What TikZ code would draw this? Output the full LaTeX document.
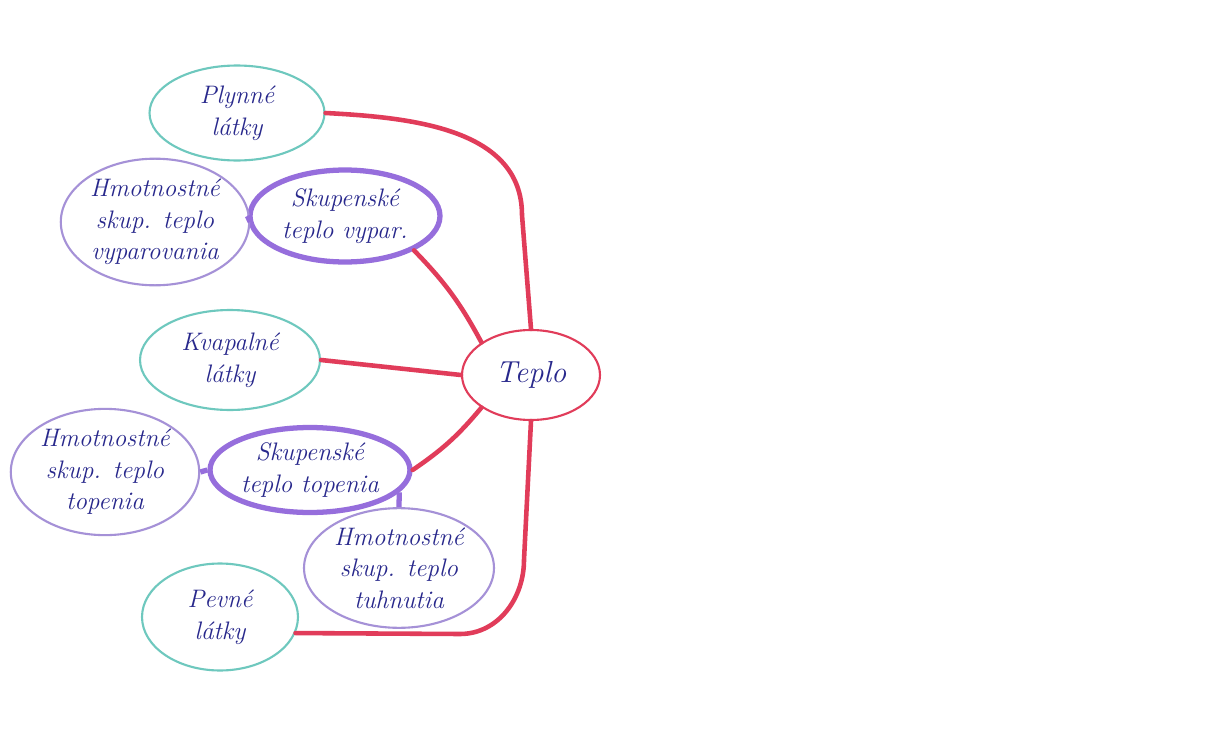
\documentclass[tikz,border=0pt]{standalone}
\usepackage{xcolor}
\usetikzlibrary{shapes.geometric}

\definecolor{tealpen}{RGB}{110,200,190}
\definecolor{violetpen}{RGB}{150,110,220}
\definecolor{lilacpen}{RGB}{165,145,215}
\definecolor{redpen}{RGB}{225,60,90}
\definecolor{inkpen}{RGB}{40,40,140}

\begin{document}
\begin{tikzpicture}[x=0.02cm,y=-0.02cm,
  bubble/.style={ellipse,inner sep=1pt,align=center,text=inkpen,font=\Large\itshape},
  state/.style={bubble,draw=tealpen,line width=1.2pt},
  skup/.style={bubble,draw=violetpen,line width=3pt},
  hmot/.style={bubble,draw=lilacpen,line width=1.2pt},
  hub/.style={bubble,draw=redpen,line width=1.2pt,font=\LARGE\itshape},
  redlink/.style={draw=redpen,line width=2.6pt,line cap=round},
  violetlink/.style={draw=violetpen,line width=3pt}]
\useasboundingbox[fill=white] (0,0) rectangle (1215,737);
% nodes
\node[hub,minimum width=2.76cm,minimum height=1.8cm] (teplo) at (531,375) {Teplo};
\node[state,minimum width=3.5cm,minimum height=1.9cm] (plyn) at (237,113) {Plynné\\ látky};
\node[skup,minimum width=3.8cm,minimum height=1.84cm] (skvyp) at (345,216) {Skupenské\\ teplo vypar.};
\node[hmot,minimum width=3.72cm,minimum height=2.3cm] (hmvyp) at (155,222) {Hmotnostné\\ skup. teplo\\ vyparovania};
\node[state,minimum width=3.6cm,minimum height=2.0cm] (kvap) at (230,360) {Kvapalné\\ látky};
\node[skup,minimum width=4.0cm,minimum height=1.7cm] (sktop) at (310,470) {Skupenské\\ teplo topenia};
\node[hmot,minimum width=3.4cm,minimum height=2.3cm] (hmtop) at (105,472) {Hmotnostné\\ skup. teplo\\ topenia};
\node[hmot,minimum width=3.8cm,minimum height=1.96cm] (hmtuh) at (399,568) {Hmotnostné\\ skup. teplo\\ tuhnutia};
\node[state,minimum width=3.12cm,minimum height=2.14cm] (pevne) at (220,617) {Pevné\\ látky};
\coordinate (topbend) at (522,215);
\coordinate (lowbend) at (524,560);
\coordinate (lowflat) at (460,634);
% red branches
\draw[redlink] (plyn.east) to[out=-3,in=90] (topbend) -- (teplo.north);
\draw[redlink] (skvyp.south east) to[bend left=8] (teplo.north west);
\draw[redlink] (kvap.east) -- (teplo.west);
\draw[redlink] (sktop.east) to[bend right=8] (teplo.south west);
\draw[redlink] (pevne.-12) -- (lowflat) to[out=0,in=-90] (lowbend) -- (teplo.south);
% violet branches
\draw[violetlink] (hmvyp.east) -- (skvyp.west);
\draw[violetlink] (hmtop.east) -- (sktop.west);
\draw[violetlink] (sktop.-14) -- (hmtuh.north);
\end{tikzpicture}
\end{document}
